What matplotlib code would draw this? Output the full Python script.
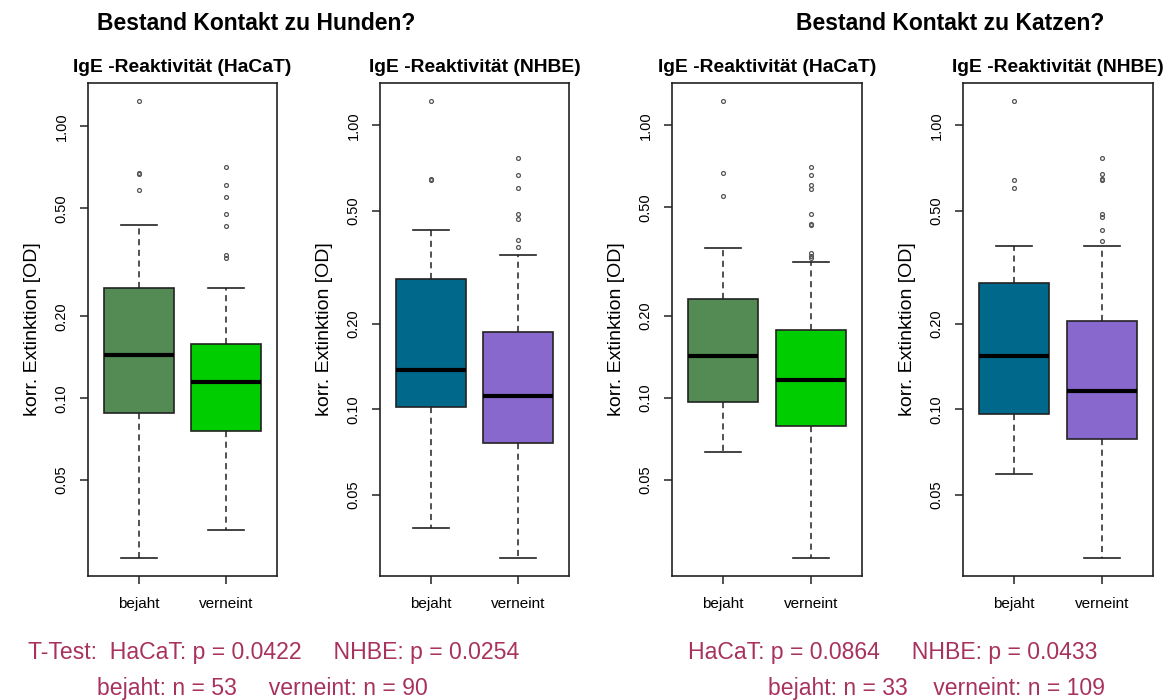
import numpy as np
import matplotlib
matplotlib.use("Agg")
import matplotlib.pyplot as plt
from matplotlib.ticker import FixedLocator, FixedFormatter, NullLocator

plt.rcParams['font.family'] = ['Liberation Sans', 'DejaVu Sans']

# ---------------- data ----------------
groups = ["bejaht", "verneint"]
main_titles = ["Bestand Kontakt zu Hunden?", "Bestand Kontakt zu Katzen?"]
panel_titles = ["IgE -Reaktivität (HaCaT)", "IgE -Reaktivität (NHBE)",
                "IgE -Reaktivität (HaCaT)", "IgE -Reaktivität (NHBE)"]
ylabel = "korr. Extinktion [OD]"
yticks = [0.05, 0.10, 0.20, 0.50, 1.00]
ytick_labels = ["0.05", "0.10", "0.20", "0.50", "1.00"]

# per panel: [bejaht, verneint]
whislo = [[0.0259, 0.0328], [0.0381, 0.0300], [0.0632, 0.0258], [0.0591, 0.0300]]
q1 = [[0.0886, 0.0755], [0.102, 0.0760], [0.0964, 0.0789], [0.0966, 0.0789]]
med = [[0.144, 0.115], [0.138, 0.111], [0.142, 0.1164], [0.154, 0.1157]]
q3 = [[0.255, 0.159], [0.288, 0.188], [0.230, 0.1775], [0.279, 0.204]]
whishi = [[0.435, 0.255], [0.428, 0.350], [0.355, 0.314], [0.375, 0.376]]
fliers = [
    [[1.238, 0.668, 0.672, 0.586],
     [0.708, 0.609, 0.551, 0.477, 0.430, 0.336, 0.327]],
    [[1.217, 0.644, 0.648],
     [0.766, 0.671, 0.604, 0.487, 0.469, 0.394, 0.374]],
    [[1.227, 0.669, 0.550],
     [0.702, 0.659, 0.604, 0.586, 0.472, 0.430, 0.433, 0.339, 0.327, 0.330]],
    [[1.217, 0.642, 0.602],
     [0.766, 0.673, 0.644, 0.648, 0.487, 0.474, 0.428, 0.392]],
]
box_colors = [["#548B54", "#00CD00"], ["#00688B", "#8968CD"],
              ["#548B54", "#00CD00"], ["#00688B", "#8968CD"]]

ttest_lines = ["T-Test:  HaCaT: p = 0.0422     NHBE: p = 0.0254",
               "bejaht: n = 53     verneint: n = 90",
               "HaCaT: p = 0.0864     NHBE: p = 0.0433",
               "bejaht: n = 33    verneint: n = 109"]

# ---------------- layout ----------------
W, H = 1170, 700
fig = plt.figure(figsize=(W / 100, H / 100), dpi=100)
fig.patch.set_facecolor("white")

ax_px = [(88, 277), (380, 569), (672, 862), (963, 1153)]
top_px, bot_px = 83, 576

def fx(x):
    return x / W

def fy(y):
    return 1 - y / H

for i in range(4):
    l, r = ax_px[i]
    ax = fig.add_axes([fx(l), fy(bot_px), (r - l) / W, (bot_px - top_px) / H])
    stats = []
    for j in range(2):
        stats.append(dict(label=groups[j], whislo=whislo[i][j], q1=q1[i][j],
                          med=med[i][j], q3=q3[i][j], whishi=whishi[i][j],
                          fliers=fliers[i][j]))
    bp = ax.bxp(stats, positions=[1, 2], widths=0.8, capwidths=0.41,
                patch_artist=True, showfliers=True,
                boxprops=dict(edgecolor="#222222", linewidth=1.2),
                medianprops=dict(color="black", linewidth=3.0, solid_capstyle="butt"),
                whiskerprops=dict(color="#222222", linewidth=1.1, linestyle=(0, (4, 3))),
                capprops=dict(color="#222222", linewidth=1.2),
                flierprops=dict(marker="o", markersize=2.8, markerfacecolor="none",
                                markeredgecolor="#555555", markeredgewidth=0.9))
    for patch, c in zip(bp["boxes"], box_colors[i]):
        patch.set_facecolor(c)
    ax.set_yscale("log")
    allv = [whislo[i][0], whislo[i][1]] + fliers[i][0] + fliers[i][1] + whishi[i]
    lo, hi = np.log10(min(allv)), np.log10(max(allv))
    pad = 0.04 * (hi - lo)
    ax.set_ylim(10 ** (lo - pad), 10 ** (hi + pad))
    ax.set_xlim(0.42, 2.58)
    ax.yaxis.set_major_locator(FixedLocator(yticks))
    ax.yaxis.set_major_formatter(FixedFormatter(ytick_labels))
    ax.yaxis.set_minor_locator(NullLocator())
    ax.set_xticks([1, 2])
    ax.set_xticklabels(groups, fontsize=11)
    ax.tick_params(axis="both", direction="out", length=6, width=1.1, color="#222222")
    ax.tick_params(axis="x", pad=9)
    ax.tick_params(axis="y", pad=8, labelsize=10.5)
    for lab in ax.get_yticklabels():
        lab.set_rotation(90)
        lab.set_va("center")
    for s in ax.spines.values():
        s.set_linewidth(1.2)
        s.set_color("#222222")
    ax.set_ylabel(ylabel, fontsize=14, labelpad=10)
    fig.text(fx((l + r) / 2), fy(67), panel_titles[i], ha="center", va="center",
             fontsize=13.9, fontweight="bold")

fig.text(fx(256), fy(23), main_titles[0], ha="center", va="center",
         fontsize=16.5, fontweight="bold")
fig.text(fx(950), fy(23), main_titles[1], ha="center", va="center",
         fontsize=16.5, fontweight="bold")

tcol = "#A8325E"
fig.text(fx(28), fy(652), ttest_lines[0], ha="left", va="center", fontsize=16.6,
         color=tcol)
fig.text(fx(97), fy(688), ttest_lines[1], ha="left", va="center", fontsize=16.6,
         color=tcol)
fig.text(fx(688), fy(652), ttest_lines[2], ha="left", va="center", fontsize=16.6,
         color=tcol)
fig.text(fx(768), fy(688), ttest_lines[3], ha="left", va="center", fontsize=16.6,
         color=tcol)

fig.savefig("out.png", dpi=100, facecolor="white")
